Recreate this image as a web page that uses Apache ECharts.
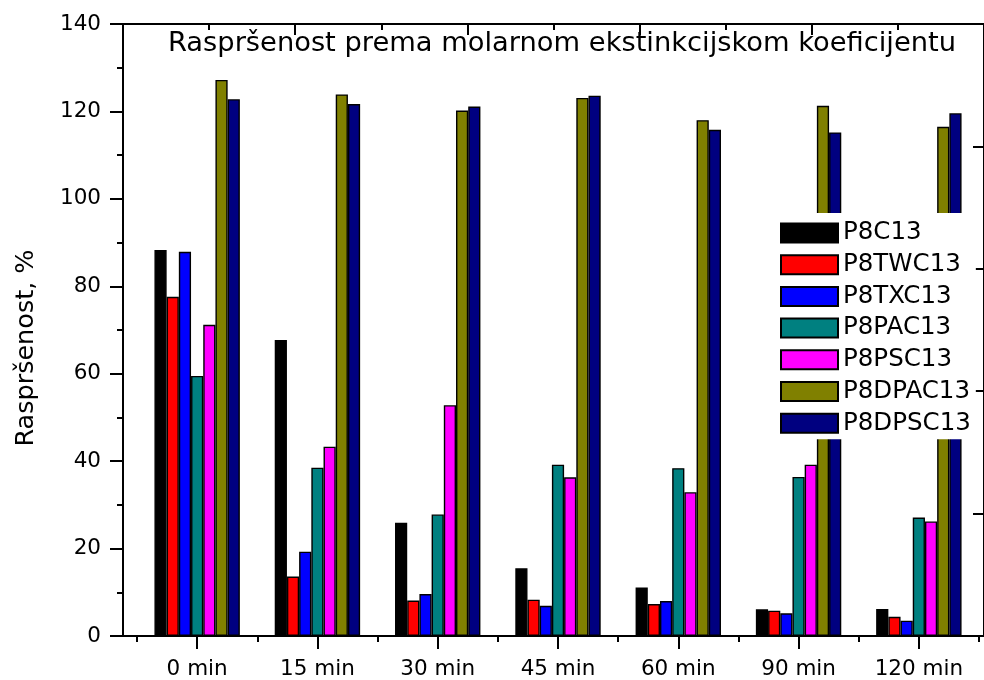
<!DOCTYPE html>
<html><head><meta charset="utf-8">
<script src="https://cdn.jsdelivr.net/npm/echarts@6/dist/echarts.min.js"></script>
<style>html,body{margin:0;padding:0;background:#fff}#c{width:984px;height:680px}</style>
</head><body><div id="c"></div>
<script>
const categories = ['0 min','15 min','30 min','45 min','60 min','90 min','120 min'];
const seriesNames = ['P8C13','P8TWC13','P8TXC13','P8PAC13','P8PSC13','P8DPAC13','P8DPSC13'];
const colors = ['#000000','#ff0000','#0000ff','#008080','#ff00ff','#808000','#000080'];
const P8C13    = [88.3, 67.7, 25.9, 15.5, 11.1, 6.1, 6.2];
const P8TWC13  = [77.6, 13.6, 8.1, 8.3, 7.3, 5.8, 4.4];
const P8TXC13  = [87.9, 19.3, 9.6, 6.9, 8.0, 5.2, 3.5];
const P8PAC13  = [59.5, 38.5, 27.8, 39.2, 38.4, 36.4, 27.1];
const P8PSC13  = [71.2, 43.3, 52.8, 36.3, 32.9, 39.2, 26.2];
const P8DPAC13 = [127.2, 123.9, 120.2, 123.1, 118.0, 121.3, 116.5];
const P8DPSC13 = [122.8, 121.7, 121.1, 123.6, 115.8, 115.2, 119.6];
const values = [P8C13, P8TWC13, P8TXC13, P8PAC13, P8PSC13, P8DPAC13, P8DPSC13];
const titleText = 'Raspršenost prema molarnom ekstinkcijskom koeficijentu';
const yName = 'Raspršenost, %';

const FONT = 'DejaVu Sans, sans-serif';
const chart = echarts.init(document.getElementById('c'));
const axisLine = {show:true, onZero:false, lineStyle:{color:'#000', width:2}};
const noLine = {show:false, onZero:false};
chart.setOption({
  animation:false,
  backgroundColor:'#fff',
  title:{text:titleText, left:168, top:30, padding:0,
    textStyle:{fontFamily:FONT, fontSize:27.3, fontWeight:'normal', color:'#000'}},
  legend:{data:seriesNames, orient:'vertical', left:775, top:213,
    padding:[7.5,5,3.5,5], backgroundColor:'#fff', itemWidth:57, itemHeight:19, itemGap:6.7,
    icon:'rect', textStyle:{fontFamily:FONT, fontSize:24.5, color:'#000', lineHeight:24}},
  grid:[
    {left:123, top:24, width:866, height:612, containLabel:false},
    {left:137, top:24, width:842, height:612, containLabel:false}
  ],
  xAxis:[
    {gridIndex:0, type:'value', position:'bottom', min:0, max:1, axisLine:axisLine,
      axisTick:{show:false}, minorTick:{show:false}, axisLabel:{show:false}, splitLine:{show:false}},
    {gridIndex:0, type:'value', position:'top', min:0, max:5, interval:1, axisLine:axisLine,
      axisTick:{show:true, inside:true, length:11, lineStyle:{color:'#000', width:2}},
      minorTick:{show:true, splitNumber:2, length:6, lineStyle:{color:'#000', width:2}},
      axisLabel:{show:false}, splitLine:{show:false}},
    {gridIndex:1, type:'category', position:'bottom', data:categories, boundaryGap:true,
      axisLine:noLine,
      axisTick:{show:true, alignWithLabel:true, length:13, lineStyle:{color:'#000', width:2}},
      axisLabel:{fontFamily:FONT, fontSize:21.5, color:'#000', margin:22}, splitLine:{show:false}},
    {gridIndex:1, type:'category', position:'bottom', data:categories, boundaryGap:true,
      axisLine:noLine,
      axisTick:{show:true, alignWithLabel:false, length:6, lineStyle:{color:'#000', width:2}},
      axisLabel:{show:false}, splitLine:{show:false}}
  ],
  yAxis:[
    {gridIndex:0, type:'value', position:'left', min:0, max:140, interval:20, axisLine:axisLine,
      axisTick:{show:true, length:13, lineStyle:{color:'#000', width:2}},
      minorTick:{show:true, splitNumber:2, length:6, lineStyle:{color:'#000', width:2}},
      axisLabel:{fontFamily:FONT, fontSize:21.5, color:'#000', margin:22},
      splitLine:{show:false},
      name:yName, nameLocation:'middle', nameGap:84, nameRotate:90,
      nameTextStyle:{fontFamily:FONT, fontSize:25.5, color:'#000', padding:[0,36,0,0]}},
    {gridIndex:0, type:'value', position:'right', min:0, max:5, interval:1, axisLine:axisLine,
      axisTick:{show:true, inside:true, length:11, lineStyle:{color:'#000', width:2}},
      axisLabel:{show:false}, splitLine:{show:false}},
    {gridIndex:1, type:'value', min:0, max:140, show:false, axisLine:noLine, splitLine:{show:false}}
  ],
  series: seriesNames.map((n,i)=>({
    name:n, type:'bar', xAxisIndex:2, yAxisIndex:2, data:values[i],
    barGap:'0%', barCategoryGap:'29%',
    itemStyle:{color:colors[i], borderColor:'#000', borderWidth:1.4}
  }))
});
</script></body></html>
